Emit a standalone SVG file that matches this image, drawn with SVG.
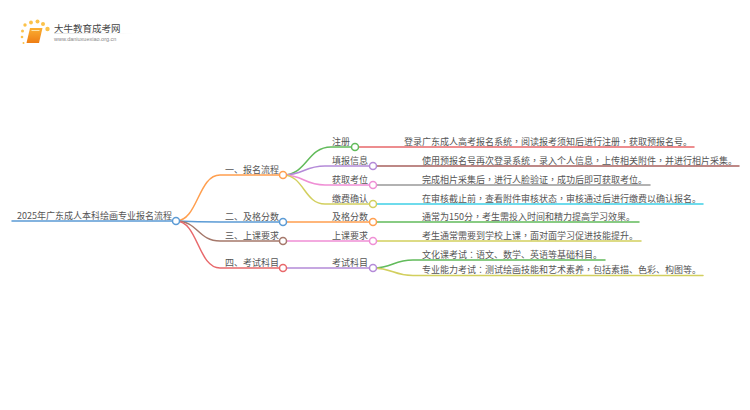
<svg xmlns="http://www.w3.org/2000/svg" width="750" height="410" viewBox="0 0 750 410">
<style>
text{font-family:"Noto Sans CJK SC","Liberation Sans",sans-serif;font-size:9px;fill:#555}
.p{font-family:"Noto Sans CJK TC","Liberation Sans",sans-serif}
.c{fill:none;stroke-width:1.5;stroke-linecap:round}
.n{fill:#fff;stroke-width:1.5}
</style>
<defs><linearGradient id="b" x1="0" y1="0" x2="0" y2="1"><stop offset="0" stop-color="#fbb032"/><stop offset="1" stop-color="#ee7d14"/></linearGradient>
<linearGradient id="r" x1="0" y1="0" x2="1" y2="0"><stop offset="0" stop-color="#ddd"/><stop offset="1" stop-color="#fff"/></linearGradient></defs>
<rect width="750" height="410" fill="#fff"/>
<g id="logo">
<g fill="#fbc24a"><circle cx="25" cy="25" r="1.700"/><circle cx="31" cy="22.500" r="1.900"/><circle cx="37.500" cy="21.500" r="2"/><circle cx="43" cy="24" r="2"/><circle cx="47.500" cy="29" r="2.200"/><circle cx="22.500" cy="31" r="1.500"/><circle cx="22" cy="37" r="1.300"/><circle cx="23.500" cy="43" r="1"/></g>
<path d="M30 28h12.500l-3.500 15h-12.500z" fill="url(#b)"/><path d="M31.500 30.500h8" stroke="#fde3a8" stroke-width="1"/>
<text x="54" y="31.500" style="font-size:9.500px;fill:#444">大牛教育成考网</text>
<rect x="54" y="33" width="80" height="0.800" fill="url(#r)"/>
<text x="54" y="41" style="font-size:5.500px;fill:#888;font-family:'Liberation Sans',sans-serif">www.daniuxuexiao.org.cn</text>
</g>
<g id="connectors">
<path class="c" stroke="#5b9bd5" d="M12 221H176"/>
<path class="c" stroke="#ff9f4f" d="M176 221C198 221 198 175 220 175H283"/>
<path class="c" stroke="#5b9bd5" d="M176 221Q198 222 220 222H283"/>
<path class="c" stroke="#a5786b" d="M176 221C198 221 198 241 220 241H283"/>
<path class="c" stroke="#e8686b" d="M176 221C198 221 198 268 220 268H283"/>
<path class="c" stroke="#62bb5b" d="M283 175C307 175 307 147 331 147H355"/>
<path class="c" stroke="#b48ad8" d="M283 175C304 175 304 166 325 166H373"/>
<path class="c" stroke="#ef8fd5" d="M283 175C304 175 304 185 325 185H373"/>
<path class="c" stroke="#d2cf5e" d="M283 175C304 175 304 204 325 204H373"/>
<path class="c" stroke="#ff9f4f" d="M283 222H373"/>
<path class="c" stroke="#ef8fd5" d="M283 241H373"/>
<path class="c" stroke="#b48ad8" d="M283 268H373"/>
<path class="c" stroke="#e8686b" d="M355 147H694"/>
<path class="c" stroke="#a8625f" d="M373 166H739"/>
<path class="c" stroke="#999" d="M373 185H650"/>
<path class="c" stroke="#3fd0e6" d="M373 204H703"/>
<path class="c" stroke="#62bb5b" d="M373 222H639"/>
<path class="c" stroke="#d2cf5e" d="M373 241H641"/>
<path class="c" stroke="#62bb5b" d="M373 268C393 268 393 260 413 260H605"/>
<path class="c" stroke="#d2cf5e" d="M373 268C393 268 393 275.500 413 275.500H703"/>
</g>
<g id="root"><text x="17" y="219">2025年广东成人本科绘画专业报名流程</text><circle class="n" stroke="#5b9bd5" cx="176" cy="221" r="3.500"/></g>
<g id="b1"><text x="225" y="173">一、报名流程</text><circle class="n" stroke="#ff9f4f" cx="283" cy="175" r="3.500"/></g>
<g id="b2"><text x="225" y="219.500">二、及格分数</text><circle class="n" stroke="#5b9bd5" cx="283" cy="222" r="3.500"/></g>
<g id="b3"><text x="225" y="239">三、上课要求</text><circle class="n" stroke="#a5786b" cx="283" cy="241" r="3.500"/></g>
<g id="b4"><text x="225" y="265.500">四、考试科目</text><circle class="n" stroke="#e8686b" cx="283" cy="268" r="3.500"/></g>
<g id="n1"><text x="332" y="145">注册</text><circle class="n" stroke="#62bb5b" cx="355" cy="147" r="3.500"/></g>
<g id="n2"><text x="332" y="163.500">填报信息</text><circle class="n" stroke="#b48ad8" cx="373" cy="166" r="3.500"/></g>
<g id="n3"><text x="332" y="182.500">获取考位</text><circle class="n" stroke="#ef8fd5" cx="373" cy="185" r="3.500"/></g>
<g id="n4"><text x="332" y="201.500">缴费确认</text><circle class="n" stroke="#d2cf5e" cx="373" cy="204" r="3.500"/></g>
<g id="n5"><text x="332" y="219.500">及格分数</text><circle class="n" stroke="#ff9f4f" cx="373" cy="222" r="3.500"/></g>
<g id="n6"><text x="332" y="238.500">上课要求</text><circle class="n" stroke="#ef8fd5" cx="373" cy="241" r="3.500"/></g>
<g id="n7"><text x="332" y="265.500">考试科目</text><circle class="n" stroke="#b48ad8" cx="373" cy="268" r="3.500"/></g>
<g id="l1"><text x="404" y="144.500">登录广东成人高考报名系统<tspan class="p">，</tspan>阅读报考须知后进行注册<tspan class="p">，</tspan>获取预报名号。</text></g>
<g id="l2"><text x="422" y="163.500">使用预报名号再次登录系统<tspan class="p">，</tspan>录入个人信息<tspan class="p">，</tspan>上传相关附件<tspan class="p">，</tspan>并进行相片采集。</text></g>
<g id="l3"><text x="422" y="182.500">完成相片采集后<tspan class="p">，</tspan>进行人脸验证<tspan class="p">，</tspan>成功后即可获取考位。</text></g>
<g id="l4"><text x="422" y="201.500">在审核截止前<tspan class="p">，</tspan>查看附件审核状态<tspan class="p">，</tspan>审核通过后进行缴费以确认报名。</text></g>
<g id="l5"><text x="422" y="219.500">通常为150分<tspan class="p">，</tspan>考生需投入时间和精力提高学习效果。</text></g>
<g id="l6"><text x="422" y="238.500">考生通常需要到学校上课<tspan class="p">，</tspan>面对面学习促进技能提升。</text></g>
<g id="l7"><text x="422" y="257.500">文化课考试<tspan class="p">：</tspan>语文、数学、英语等基础科目。</text></g>
<g id="l8"><text x="422" y="273">专业能力考试<tspan class="p">：</tspan>测试绘画技能和艺术素养<tspan class="p">，</tspan>包括素描、色彩、构图等。</text></g>
</svg>
